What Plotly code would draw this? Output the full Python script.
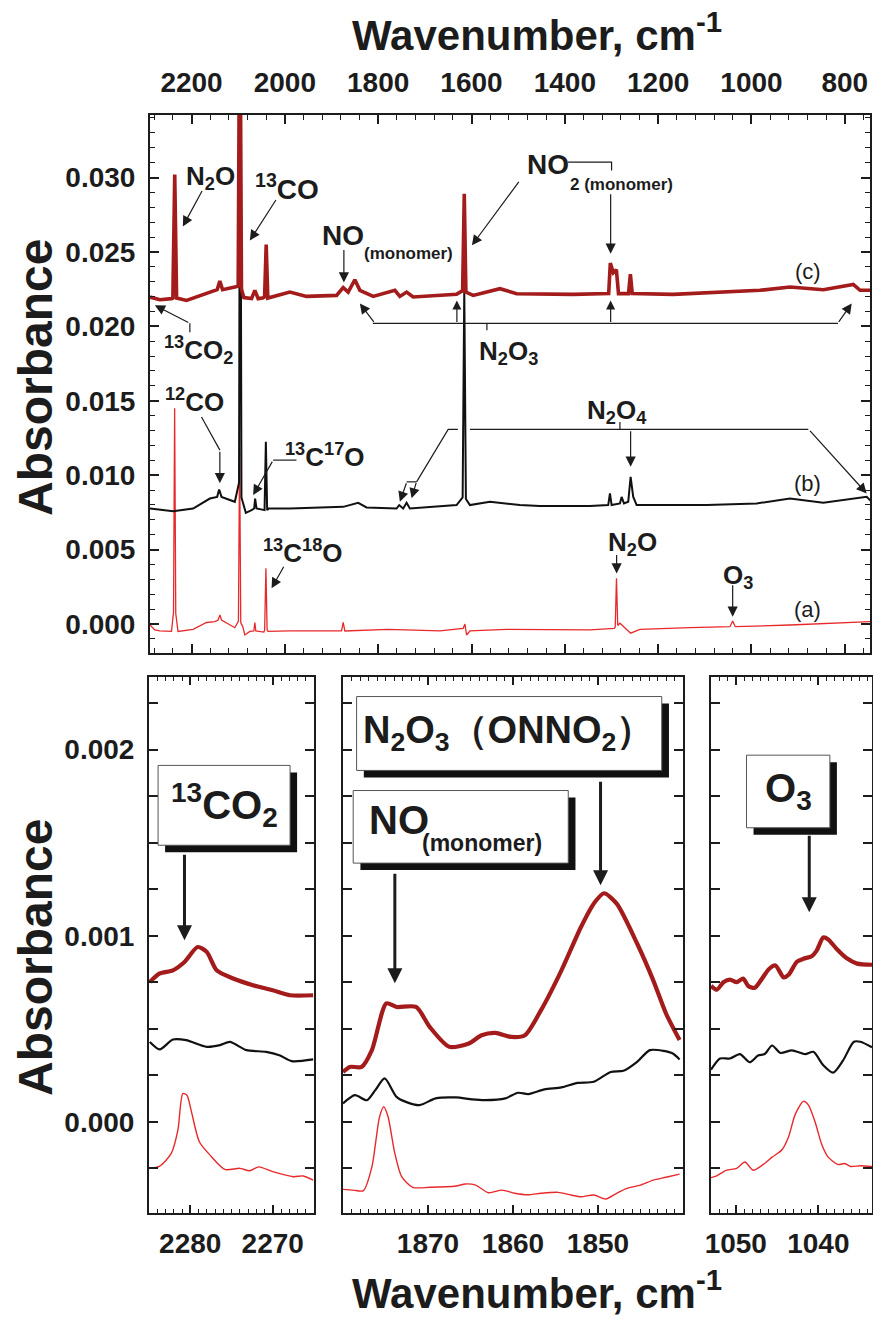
import plotly.graph_objects as go

# ---------------- data: top panel (wavenumber, absorbance) ----------------
a_wn = [2289.0, 2278.7, 2268.0, 2242.9, 2238.6, 2236.2, 2233.8, 2229.0, 2196.6, 2167.8, 2150.0, 2143.0,
        2139.3, 2135.7, 2107.2, 2099.5, 2097.0, 2094.5, 2090.0, 2085.7, 2075.0, 2066.5, 2064.3, 2062.2, 2045.0,
        2043.3, 2040.6, 2038.0, 2035.8, 1989.3, 1878.5, 1875.0, 1871.4, 1778.6, 1667.7, 1617.8, 1614.1, 1610.5,
        1603.4, 1524.8, 1346.2, 1294.0, 1292.0, 1289.3, 1286.6, 1281.9, 1259.0, 1239.0, 1131.8, 1046.1, 1040.3,
        1034.7, 917.5, 810.3, 742.4]
a_ab = [-0.00007, -0.0004, -0.00047, -0.0005, 0.0008, 0.0145, 0.0007, -0.0005, -0.00036, 0.0001,
        0.00016, 0.00027, 0.0006, 0.00027, -0.00025, 0.0002, 0.0117, 0.0001, -0.0002, -0.00074, -0.0005,
        -0.00047, 0.0001, -0.00047, -0.00054, -0.0004, 0.00374, -0.0004, -0.0005, -0.00047, -0.00047, 0.0001,
        -0.00047, -0.00036, -0.00047, -0.00029, 0.0, -0.00074, -0.00047, -0.00036, -0.0004, -0.00029, -0.0002,
        0.00307, -0.0001, 0.00005, -0.00062, -0.00036, -0.00025, -0.00018, 0.0002, -0.00018, -0.00007, 0.00005,
        0.00016]

b_wn = [2289.0, 2239.4, 2196.6, 2160.8, 2145.1, 2140.8, 2135.7, 2107.2, 2098.2, 2095.8, 2093.0, 2089.4, 2083.6,
        2071.4, 2065.8, 2063.7, 2060.7, 2043.5, 2040.7, 2037.9, 2034.9, 1989.3, 1875.0, 1842.9, 1824.9, 1760.6,
        1755.0, 1746.4, 1739.1, 1732.1, 1632.0, 1619.0, 1615.5, 1612.0, 1603.4, 1560.6, 1496.3, 1453.4, 1346.2,
        1307.0, 1303.3, 1299.7, 1281.9, 1278.3, 1273.3, 1264.1, 1259.0, 1253.4, 1246.1, 1096.0, 988.9, 917.5,
        846.1, 753.1, 742.4]
b_ab = [0.00776, 0.00758, 0.00776, 0.00843, 0.00854, 0.00904, 0.00854, 0.00821, 0.0095, 0.045, 0.0085, 0.0081,
        0.00747, 0.00765, 0.00776, 0.00843, 0.00776, 0.00765, 0.01224, 0.00765, 0.00776, 0.00776, 0.00787,
        0.00814, 0.00783, 0.00776, 0.00799, 0.00776, 0.00814, 0.00776, 0.00799, 0.0085, 0.0225, 0.0084,
        0.00799, 0.00821, 0.00799, 0.00792, 0.00792, 0.00799, 0.00877, 0.00799, 0.0081, 0.00854, 0.0081,
        0.00821, 0.00989, 0.00854, 0.00799, 0.00799, 0.0081, 0.00843, 0.00814, 0.00854, 0.00821]

c_wn = [2289.0, 2267.9, 2242.9, 2240.0, 2236.0, 2232.0, 2210.7, 2167.8, 2145.1, 2139.3, 2133.5, 2107.2, 2100.0,
        2096.5, 2093.0, 2087.9, 2071.4, 2064.3, 2057.2, 2045.0, 2043.5, 2040.0, 2036.5, 1989.3, 1953.5, 1889.2,
        1875.0, 1864.3, 1850.0, 1839.2, 1810.7, 1764.2, 1753.5, 1739.1, 1725.0, 1632.0, 1619.0, 1615.5, 1612.0,
        1596.4, 1539.1, 1503.3, 1382.0, 1306.0, 1302.5, 1296.0, 1289.5, 1285.0, 1263.5, 1259.5, 1255.5,
        1167.6, 1039.0, 981.8, 917.5, 846.1, 781.8, 767.3, 742.4]
c_ab = [0.02197, 0.02179, 0.02186, 0.0219, 0.0302, 0.0219, 0.02174, 0.02224, 0.02246, 0.02304, 0.02246,
        0.02264, 0.0227, 0.045, 0.0225, 0.02193, 0.02186, 0.02242, 0.02186, 0.02193, 0.0219, 0.0255, 0.0219,
        0.0223, 0.02201, 0.02208, 0.0226, 0.0223, 0.02313, 0.02242, 0.02201, 0.02242, 0.02201, 0.0223, 0.02197,
        0.02215, 0.0224, 0.0289, 0.0223, 0.02208, 0.02253, 0.02219, 0.02215, 0.0222, 0.02425, 0.0236, 0.0238,
        0.0222, 0.0222, 0.0235, 0.0222, 0.02215, 0.02237, 0.02242, 0.02264, 0.02246, 0.02282, 0.02242, 0.02242]

# ---------------- data: bottom-left panel (13CO2 region) ----------------
L_c_wn = [2284.9, 2283.7, 2282.1, 2280.7, 2279.1, 2278.0, 2276.8, 2274.8, 2272.4, 2270.0, 2267.9, 2265.1]
L_c_ab = [0.000751, 0.000797, 0.000814, 0.000859, 0.000939, 0.000913, 0.000814, 0.00077, 0.000734, 0.000707,
          0.00068, 0.00068]
L_b_wn = [2284.9, 2283.7, 2282.1, 2280.5, 2278.0, 2276.4, 2275.2, 2273.2, 2270.8, 2269.2, 2267.7, 2265.1]
L_b_ab = [0.000429, 0.000389, 0.000442, 0.000439, 0.000403, 0.000412, 0.000429, 0.000385, 0.000376, 0.000358,
          0.000326, 0.000335]
L_a_wn = [2284.9, 2283.7, 2282.3, 2281.5, 2280.9, 2280.4, 2279.9, 2278.9, 2277.6, 2275.8, 2274.0, 2272.8, 2271.7,
          2270.0, 2267.5, 2266.3, 2265.1]
L_a_ab = [-0.00025, -0.000238, -0.00017, -0.000045, 0.000152, 0.000143, 0.000063, -0.000107, -0.000179,
          -0.000256, -0.00025, -0.000263, -0.000242, -0.000268, -0.000295, -0.000291, -0.000313]

# ---------------- data: bottom-middle panel (NO / N2O3 region) ----------------
M_c_wn = [1880.0, 1879.2, 1877.8, 1876.6, 1874.9, 1873.7, 1871.4, 1869.8, 1867.5, 1865.2, 1863.7, 1862.1, 1860.2,
          1858.6, 1856.7, 1854.3, 1852.0, 1850.5, 1849.3, 1847.8, 1845.4, 1843.5, 1842.0, 1840.4]
M_c_ab = [0.000268, 0.000295, 0.000295, 0.000385, 0.000636, 0.000617, 0.000617, 0.00051, 0.000403, 0.000421,
          0.000465, 0.000478, 0.000456, 0.000465, 0.0006, 0.000814, 0.001047, 0.001172, 0.001228, 0.001172,
          0.000958, 0.00076, 0.000582, 0.000439]
M_b_wn = [1880.0, 1878.6, 1877.2, 1876.2, 1875.1, 1873.7, 1872.6, 1871.0, 1869.1, 1866.7, 1864.8, 1863.3, 1860.9,
          1859.4, 1858.2, 1856.3, 1854.3, 1852.4, 1850.5, 1848.5, 1847.0, 1845.4, 1843.9, 1842.3, 1841.2, 1840.4]
M_b_ab = [0.0000987, 0.000143, 0.000116, 0.00017, 0.000233, 0.000134, 0.000107, 0.0000896, 0.000126, 0.000131,
          0.00012, 0.000116, 0.000126, 0.000156, 0.000149, 0.000174, 0.000185, 0.000209, 0.000215, 0.000268,
          0.000274, 0.000322, 0.000385, 0.000381, 0.000367, 0.000335]
M_a_wn = [1880.0, 1878.8, 1877.6, 1876.6, 1875.7, 1875.2, 1874.7, 1873.9, 1873.1, 1871.8, 1869.8, 1866.7, 1865.6,
          1864.4, 1862.9, 1861.3, 1859.8, 1858.2, 1856.7, 1854.7, 1853.2, 1852.0, 1850.5, 1849.1, 1847.8, 1846.6,
          1845.0, 1843.5, 1842.0, 1840.4]
M_a_ab = [-0.000363, -0.000367, -0.00037, -0.000242, 0.0000268, 0.0000805, 0.0000268, -0.00017, -0.000295,
          -0.000352, -0.000352, -0.000345, -0.000334, -0.00034, -0.000381, -0.000367, -0.000384, -0.000392,
          -0.000384, -0.000379, -0.000393, -0.000403, -0.000393, -0.000415, -0.000384, -0.000358, -0.00034,
          -0.000313, -0.000298, -0.000281]

# ---------------- data: bottom-right panel (O3 region) ----------------
R_c_wn = [1053.0, 1052.3, 1051.5, 1050.7, 1049.9, 1049.1, 1048.5, 1047.7, 1046.9, 1046.0, 1045.2, 1044.2, 1043.6,
          1042.6, 1041.8, 1040.8, 1040.2, 1039.4, 1038.8, 1037.8, 1036.6, 1035.3, 1033.5]
R_c_ab = [0.00073, 0.00071, 0.00075, 0.000764, 0.00075, 0.00077, 0.00073, 0.00072, 0.000764, 0.00082, 0.00084,
          0.000776, 0.00079, 0.00086, 0.000876, 0.00089, 0.00092, 0.00099, 0.00098, 0.00093, 0.00088, 0.00085,
          0.000844]
R_b_wn = [1053.0, 1051.9, 1050.7, 1049.5, 1048.3, 1047.3, 1046.5, 1045.6, 1044.6, 1043.2, 1041.6, 1040.6, 1039.4,
          1038.2, 1037.0, 1035.7, 1034.9, 1033.5]
R_b_ab = [0.00028, 0.00034, 0.00034, 0.000364, 0.00032, 0.000356, 0.000364, 0.00041, 0.00037, 0.000384, 0.000364,
          0.000376, 0.000304, 0.000264, 0.00033, 0.00043, 0.00043, 0.0004]
R_a_wn = [1053.0, 1052.3, 1051.1, 1049.9, 1048.9, 1047.9, 1046.7, 1045.6, 1044.4, 1043.6, 1042.8, 1041.8, 1041.2,
          1040.4, 1039.6, 1038.8, 1037.6, 1036.8, 1036.1, 1034.9, 1033.5]
R_a_ab = [-0.0003, -0.00029, -0.00026, -0.00025, -0.000216, -0.00026, -0.00023, -0.00019, -0.00015, -0.00008,
          0.00004, 0.00011, 0.00009, 0.0, -0.00012, -0.00019, -0.00023, -0.000224, -0.00024, -0.000236, -0.00024]

# tick values
top_x_ticks = [2200, 2000, 1800, 1600, 1400, 1200, 1000, 800]
left_x_ticks = [2280, 2270]
mid_x_ticks = [1870, 1860, 1850]
right_x_ticks = [1050, 1040]
bot_tickvals = [-0.00025, 0.0, 0.00025, 0.0005, 0.00075, 0.001, 0.00125, 0.0015, 0.00175, 0.002, 0.00225]
bot_ticktext = ["", "0.000", "", "", "", "0.001", "", "", "", "0.002", ""]

# ---------------- styling ----------------
W, H = 873, 1319
FONT = "Liberation Sans, Arial, Helvetica, sans-serif"
INK = "#1c1c1c"
RED_A = "#e8292b"
RED_C = "#a31b1b"
BLACK_B = "#111111"

fig = go.Figure()

def add(x, y, color, width, xa, ya, shape="linear"):
    fig.add_trace(go.Scatter(x=x, y=y, mode="lines", xaxis=xa, yaxis=ya, showlegend=False, hoverinfo="skip",
                             line=dict(color=color, width=width, shape=shape, smoothing=0.7)))

add(a_wn, a_ab, RED_A, 1.3, "x", "y")
add(b_wn, b_ab, BLACK_B, 2.0, "x", "y")
add(c_wn, c_ab, RED_C, 3.6, "x", "y")
for xa, ya, (aw, aa), (bw, ba), (cw, ca) in [
        ("x2", "y2", (L_a_wn, L_a_ab), (L_b_wn, L_b_ab), (L_c_wn, L_c_ab)),
        ("x3", "y3", (M_a_wn, M_a_ab), (M_b_wn, M_b_ab), (M_c_wn, M_c_ab)),
        ("x4", "y4", (R_a_wn, R_a_ab), (R_b_wn, R_b_ab), (R_c_wn, R_c_ab))]:
    add(aw, aa, RED_A, 1.4, xa, ya, "spline")
    add(bw, ba, BLACK_B, 2.2, xa, ya, "spline")
    add(cw, ca, RED_C, 4.2, xa, ya, "spline")

tickfont = dict(family=FONT, size=28, color=INK, weight="bold")
axcommon = dict(showline=True, linewidth=2, linecolor=INK, mirror="allticks", showgrid=False, zeroline=False,
                ticks="inside", tickcolor=INK, tickwidth=1.6, tickfont=tickfont, automargin=False)

top_dom_y = [(H - 653) / H, (H - 115) / H]
bot_dom_y = [(H - 1213) / H, (H - 677) / H]

def xminor(d):
    return dict(dtick=d, tick0=0, ticklen=4, ticks="inside", tickcolor=INK, tickwidth=1.3)

fig.update_layout(
    width=W, height=H, margin=dict(l=0, r=0, t=0, b=0, pad=0, autoexpand=False),
    paper_bgcolor="white", plot_bgcolor="white",
    xaxis=dict(domain=[150 / W, 870 / W], range=[2289, 746], anchor="y", side="top", tickmode="array",
               tickvals=top_x_ticks, ticklen=9, ticklabelstandoff=10,
               minor=dict(dtick=40, tick0=0, ticklen=5, ticks="inside", tickcolor=INK, tickwidth=1.4), **axcommon),
    yaxis=dict(domain=top_dom_y, range=[-0.00195, 0.0342], anchor="x", dtick=0.005, tick0=0, tickformat=".3f",
               ticklen=9, ticklabelstandoff=7,
               minor=dict(dtick=0.001, tick0=0, ticklen=5, ticks="inside", tickcolor=INK, tickwidth=1.4),
               **axcommon),
    xaxis2=dict(domain=[149 / W, 314 / W], range=[2285, 2265], anchor="y2", tickmode="array",
                tickvals=left_x_ticks, ticklen=8, ticklabelstandoff=4, minor=xminor(1), **axcommon),
    xaxis3=dict(domain=[343 / W, 683 / W], range=[1880, 1840], anchor="y3", tickmode="array",
                tickvals=mid_x_ticks, ticklen=8, ticklabelstandoff=4, minor=xminor(1), **axcommon),
    xaxis4=dict(domain=[711 / W, 872 / W], range=[1053, 1033.5], anchor="y4", tickmode="array",
                tickvals=right_x_ticks, ticklen=8, ticklabelstandoff=4, minor=xminor(1), **axcommon),
    yaxis2=dict(domain=bot_dom_y, range=[-0.00049, 0.00239], anchor="x2", tickmode="array", tickvals=bot_tickvals,
                ticktext=bot_ticktext, ticklen=9, ticklabelstandoff=7, **axcommon),
    yaxis3=dict(domain=bot_dom_y, range=[-0.00049, 0.00239], anchor="x3", tickmode="array", tickvals=bot_tickvals,
                showticklabels=False, ticklen=9, **axcommon),
    yaxis4=dict(domain=bot_dom_y, range=[-0.00049, 0.00239], anchor="x4", tickmode="array", tickvals=bot_tickvals,
                showticklabels=False, ticklen=9, **axcommon),
)

ann = []
shapes = []

def label(x, y, text, size=26, xa="x", ya="y", xanchor="center", bold=True):
    ann.append(dict(x=x, y=y, xref=xa, yref=ya, text=text, showarrow=False, xanchor=xanchor, yanchor="middle",
                    font=dict(family=FONT, size=size, color=INK, weight="bold" if bold else "normal")))

def arrow(x, y, ax, ay, xa="x", ya="y", width=1.2, size=1.7):
    ann.append(dict(x=x, y=y, xref=xa, yref=ya, ax=ax, ay=ay, text="", showarrow=True, arrowhead=2,
                    arrowsize=size, arrowwidth=width, arrowcolor=INK, standoff=0, startstandoff=0))

def seg(points, xa="x", ya="y", width=1.2):
    path = "M " + " L ".join(f"{px},{py}" for px, py in points)
    shapes.append(dict(type="path", path=path, xref=xa, yref=ya, line=dict(color=INK, width=width)))

# --- top panel labels ---
label(2160.3, 0.0300, "N<sub>2</sub>O")
arrow(2218.6, 0.02671, 20, -37)
label(1995.6, 0.02933, "<sup>13</sup>CO", size=28)
arrow(2075.0, 0.02577, 27, -42)
label(1925.2, 0.02610, "NO", size=28, xanchor="left")
label(1835.0, 0.02490, "(monomer)", size=17, xanchor="left")
arrow(1873.5, 0.02295, 0, -34)
label(1485.5, 0.0309, "NO", size=28, xanchor="left")
label(1393.0, 0.02953, "2 (monomer)", size=17, xanchor="left")
seg([(1393.1, 0.03103), (1299.8, 0.03103), (1299.8, 0.03047)])
arrow(1301.8, 0.02488, 0, -61)
arrow(1599.1, 0.02544, 48, -65)
# N2O3 bracket
seg([(1811.4, 0.0202), (814.6, 0.0202)])
arrow(1839.2, 0.02154, 15, 20)
arrow(785.2, 0.02154, -14, 20)
arrow(1631.3, 0.02174, 0, 23, size=1.5)
arrow(1301.8, 0.02174, 0, 23, size=1.5)
seg([(1567.0, 0.0202), (1567.0, 0.01973)])
label(1519.8, 0.01826, "N<sub>2</sub>O<sub>3</sub>")
# 13CO2 (c)
label(2186.1, 0.01839, "<sup>13</sup>CO<sub>2</sub>")
seg([(2203.6, 0.0196), (2203.6, 0.0202)])
arrow(2278.7, 0.02141, 35, 18)
# 12CO
label(2194.6, 0.01503, "<sup>12</sup>CO")
seg([(2178.6, 0.01391), (2139.3, 0.01168)])
arrow(2139.3, 0.00946, 0, -33)
# 13C17O
label(2004.2, 0.01134, "<sup>13</sup>C<sup>17</sup>O", xanchor="left")
seg([(1975.1, 0.01101), (2025.1, 0.01101)])
arrow(2067.9, 0.00866, 20, -35)
# 13C18O
label(1961.4, 0.0049, "<sup>13</sup>C<sup>18</sup>O")
arrow(2028.5, 0.0024, 13, -23)
# N2O4 bracket
seg([(1717.7, 0.00955), (1650.0, 0.01307), (1629.2, 0.01307)])
seg([(1603.4, 0.01307), (878.2, 0.01307)])
seg([(1717.7, 0.00955), (1739.1, 0.00955)])
arrow(1753.5, 0.00821, 7, -20)
arrow(1728.4, 0.00844, 5, -17)
arrow(753.1, 0.00877, -58, -64)
seg([(1281.9, 0.01358), (1281.9, 0.01307)])
label(1287.2, 0.0143, "N<sub>2</sub>O<sub>4</sub>")
arrow(1259.0, 0.01056, 0, -37)
# (a) labels
label(1255.1, 0.00544, "N<sub>2</sub>O")
arrow(1289.0, 0.0034, 0, -20)
label(1029.0, 0.00322, "O<sub>3</sub>")
arrow(1040.3, 0.00049, 0, -33)
label(878.9, 0.02369, "(c)", size=22, bold=False)
label(878.9, 0.00946, "(b)", size=22, bold=False)
label(878.9, 0.00100, "(a)", size=22, bold=False)

# --- bottom boxes ---
def box(x0, x1, y0, y1, dx, dy, xa, ya):
    shapes.append(dict(type="rect", xref=xa, yref=ya, x0=x0 - dx, x1=x1 - dx, y0=y0 - dy, y1=y1 - dy,
                       fillcolor="#111111", line=dict(width=0)))
    shapes.append(dict(type="rect", xref=xa, yref=ya, x0=x0, x1=x1, y0=y0, y1=y1,
                       fillcolor="white", line=dict(color="#555555", width=1)))

box(2283.9, 2267.9, 0.001486, 0.001915, 0.85, 0.0000376, "x2", "y2")
label(2275.9, 0.0017, "<sup>13</sup>CO<sub>2</sub>", size=40, xa="x2", ya="y2")
arrow(2280.7, 0.000975, 0, -87, xa="x2", ya="y2", width=3, size=1.0)

box(1878.4, 1842.5, 0.001888, 0.002285, 0.85, 0.0000376, "x3", "y3")
label(1860.5, 0.00209, "N<sub>2</sub>O<sub>3</sub>（ONNO<sub>2</sub>）", size=38, xa="x3", ya="y3")
arrow(1849.7, 0.001271, 0, -105, xa="x3", ya="y3", width=3, size=1.0)

box(1878.8, 1853.5, 0.00139, 0.00178, 0.85, 0.0000376, "x3", "y3")
label(1877.2, 0.00162, "NO", size=40, xa="x3", ya="y3", xanchor="left")
label(1870.9, 0.00150, "(monomer)", size=23, xa="x3", ya="y3", xanchor="left")
arrow(1873.9, 0.000745, 0, -111, xa="x3", ya="y3", width=3, size=1.0)

box(1048.7, 1038.6, 0.00158, 0.00197, 0.85, 0.0000376, "x4", "y4")
label(1043.6, 0.00178, "O<sub>3</sub>", size=40, xa="x4", ya="y4")
arrow(1041.1, 0.001126, 0, -78, xa="x4", ya="y4", width=3, size=1.0)

# --- axis titles ---
title_font = dict(family=FONT, size=42, color=INK, weight="bold")
ab_font = dict(family=FONT, size=48, color=INK, weight="bold")
for yy in (32, 1290):
    ann.append(dict(x=537 / W, y=1 - yy / H, xref="paper", yref="paper", xanchor="center", yanchor="middle",
                    text="Wavenumber, cm<sup>-1</sup>", showarrow=False, font=title_font))
for yy in (378, 958):
    ann.append(dict(x=35 / W, y=1 - yy / H, xref="paper", yref="paper", xanchor="center", yanchor="middle",
                    text="Absorbance", textangle=-90, showarrow=False, font=ab_font))

fig.update_layout(annotations=ann, shapes=shapes)
fig.write_html("out.html", config={"displayModeBar": False},
               post_script="document.body.style.margin='0';document.body.style.overflow='hidden';")
